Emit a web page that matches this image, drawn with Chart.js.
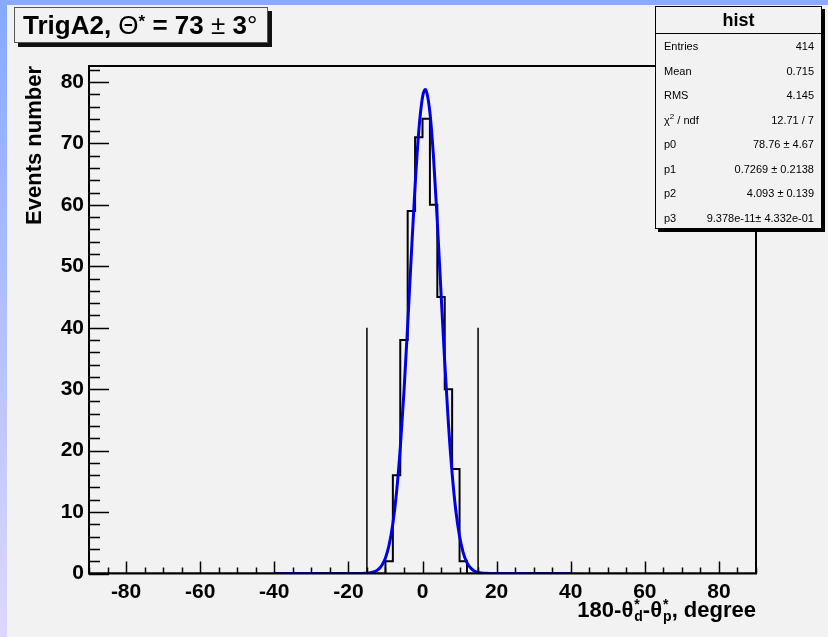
<!DOCTYPE html>
<html>
<head>
<meta charset="utf-8">
<title>TrigA2 hist</title>
<script src="https://cdn.jsdelivr.net/npm/chart.js@4.4.0/dist/chart.umd.min.js"></script>
<style>
    html, body {
        margin: 0;
        padding: 0;
    }
    body {
        width: 828px;
        height: 637px;
        position: relative;
        overflow: hidden;
        background: #f2f2f2;
        font-family: "Liberation Sans", Arial, Helvetica, sans-serif;
    }
    #wrap {
        position: absolute;
        left: 0;
        top: 0;
        width: 828px;
        height: 637px;
    }
    .stripe-left {
        position: absolute;
        left: 0;
        top: 0;
        width: 7px;
        height: 637px;
        background: linear-gradient(to bottom, #86a8ff, #ddd7fb);
    }
    .stripe-top {
        position: absolute;
        left: 0;
        top: 0;
        width: 828px;
        height: 5px;
        background: #88aaff;
    }
    .title-box {
        position: absolute;
        left: 14px;
        top: 7px;
        width: 254px;
        height: 36px;
        box-sizing: border-box;
        border: 1px solid #555;
        background: #f2f2f2;
        box-shadow: 4px 4px 0 #111;
        font-weight: bold;
        font-size: 26px;
        line-height: 34px;
        padding-left: 8px;
        white-space: nowrap;
    }
    .title-box .sym { font-weight: normal; }
    .title-box sup { font-size: 17px; vertical-align: 7px; line-height: 0; }
    .stats {
        position: absolute;
        left: 655px;
        top: 6px;
        width: 167px;
        height: 223px;
        box-sizing: border-box;
        border: 1px solid #000;
        background: #f2f2f2;
        box-shadow: 3px 3px 0 #000;
    }
    .stats .head {
        height: 26px;
        line-height: 26px;
        text-align: center;
        font-weight: bold;
        font-size: 18px;
        border-bottom: 1px solid #000;
    }
    .stats .row {
        height: 24.5px;
        line-height: 24.5px;
        font-size: 11px;
        padding: 0 7px 0 8px;
        display: flex;
        justify-content: space-between;
    }
    .stats sup { font-size: 8px; line-height: 0; }
    .xtitle {
        position: absolute;
        right: 72px;
        top: 597px;
        font-weight: bold;
        font-size: 22px;
        white-space: nowrap;
    }
    .ss {
        display: inline-flex;
        flex-direction: column;
        font-size: 14px;
        line-height: 12px;
        vertical-align: 8px;
        margin-left: 1px;
    }
</style>
</head>
<body>
<div id="wrap"><canvas id="histChart" width="828" height="637"></canvas></div>
<div class="stripe-left"></div>
<div class="stripe-top"></div>
<div class="title-box">TrigA2, <span class="sym">&Theta;</span><sup>*</sup> = 73 <span class="sym">&plusmn;</span> 3<span class="sym">&deg;</span></div>
<div class="stats" id="stats"><div class="head">hist</div></div>
<div class="xtitle">180-&theta;<span class="ss"><span>*</span><span>d</span></span>-&theta;<span class="ss"><span>*</span><span>p</span></span>, degree</div>

<script>
// histogram bins (low edge, width 2 deg) and counts
const binLow = [-10, -8, -6, -4, -2, 0, 2, 4, 6, 8, 10];
const binWidth = 2;
const counts = [2, 16, 38, 59, 71, 74, 60, 45, 30, 17, 2];

// gaussian fit curve
const fitX = [-40, -20, -17, -16, -15, -14, -13, -12, -11, -10, -9, -8, -7, -6, -5, -4, -3, -2, -1, 0, 0.73,
    1, 2, 3, 4, 5, 6, 7, 8, 9, 10, 11, 12, 13, 14, 15, 16, 17, 20, 40];
const fitY = [0, 0, 0.007, 0.019, 0.049, 0.122, 0.284, 0.626, 1.30, 2.54, 4.68, 8.11, 13.26, 20.41, 29.59, 40.43, 52.03, 63.08, 72.05, 77.53, 78.76,
    78.59, 75.04, 67.51, 57.21, 45.67, 34.35, 24.34, 16.24, 10.21, 6.05, 3.37, 1.77, 0.88, 0.41, 0.18, 0.075, 0.03, 0, 0];

// cut lines
const cutX = [-15, 15];
const cutHeight = 40;

// axes
const xRange = [-90, 90];
const yRange = [0, 82.6];
const xTicks = [-80, -60, -40, -20, 0, 20, 40, 60, 80];
const xMinorStep = 5;
const yTicks = [0, 10, 20, 30, 40, 50, 60, 70, 80];
const yMinorStep = 2;

// stat box
const statLabels = ['Entries', 'Mean', 'RMS', 'χ<sup>2</sup> / ndf', 'p0', 'p1', 'p2', 'p3'];
const statValues = ['414', '0.715', '4.145', '12.71 / 7', '78.76 ± 4.67', '0.7269 ± 0.2138', '4.093 ± 0.139', '9.378e-11± 4.332e-01'];

document.addEventListener('DOMContentLoaded', function() {
    fillStats();
    initHistChart();
});

function fillStats() {
    const box = document.getElementById('stats');
    statLabels.forEach((lab, i) => {
        const row = document.createElement('div');
        row.className = 'row';
        row.innerHTML = `<span>${lab}</span><span>${statValues[i]}</span>`;
        box.appendChild(row);
    });
}

function histPoints() {
    const pts = [{ x: xRange[0], y: 0 }];
    binLow.forEach((lo, i) => pts.push({ x: lo, y: counts[i] }));
    const last = binLow[binLow.length - 1] + binWidth;
    pts.push({ x: last, y: 0 });
    pts.push({ x: xRange[1], y: 0 });
    return pts;
}

// ROOT style frame with ticks pointing inwards
const frameTicks = {
    id: 'frameTicks',
    afterDatasetsDraw(chart) {
        const { ctx, chartArea: a, scales } = chart;
        const xs = scales.x, ys = scales.y;
        ctx.save();
        ctx.strokeStyle = '#000';
        ctx.lineWidth = 1.5;
        ctx.beginPath();
        for (let v = xRange[0]; v <= xRange[1]; v += xMinorStep) {
            const px = Math.round(xs.getPixelForValue(v)) + 0.5;
            const len = xTicks.includes(v) ? 12 : 6;
            ctx.moveTo(px, a.bottom);
            ctx.lineTo(px, a.bottom - len);
        }
        for (let v = yRange[0]; v <= yRange[1]; v += yMinorStep) {
            const py = Math.round(ys.getPixelForValue(v)) + 0.5;
            const len = yTicks.includes(v) ? 20 : 11;
            ctx.moveTo(a.left, py);
            ctx.lineTo(a.left + len, py);
        }
        ctx.stroke();
        ctx.lineWidth = 2;
        ctx.strokeRect(a.left, a.top, a.right - a.left, a.bottom - a.top);
        ctx.restore();
    }
};

function initHistChart() {
    const ctx = document.getElementById('histChart').getContext('2d');
    const tickFont = { family: '"Liberation Sans", Arial, sans-serif', size: 21, weight: 'bold' };

    new Chart(ctx, {
        type: 'line',
        data: {
            datasets: [
                {
                    label: 'fit',
                    data: fitX.map((x, i) => ({ x: x, y: fitY[i] })),
                    borderColor: '#0000e8',
                    borderWidth: 3,
                    cubicInterpolationMode: 'monotone',
                    pointRadius: 0,
                    order: 0
                },
                ...cutX.map(c => ({
                    label: 'cut',
                    data: [{ x: c, y: 0 }, { x: c, y: cutHeight }],
                    borderColor: '#000',
                    borderWidth: 1.5,
                    pointRadius: 0,
                    order: 1
                })),
                {
                    label: 'hist',
                    data: histPoints(),
                    borderColor: '#000',
                    borderWidth: 2,
                    stepped: 'before',
                    pointRadius: 0,
                    order: 2
                }
            ]
        },
        options: {
            responsive: false,
            animation: false,
            events: [],
            layout: {
                padding: { left: 0, top: 66, right: 72, bottom: 0 }
            },
            plugins: {
                legend: { display: false },
                tooltip: { enabled: false }
            },
            scales: {
                x: {
                    type: 'linear',
                    min: xRange[0],
                    max: xRange[1],
                    afterBuildTicks: s => { s.ticks = xTicks.map(v => ({ value: v })); },
                    afterFit: s => { s.height = 63.5; },
                    grid: { display: false, drawTicks: false },
                    border: { display: false },
                    ticks: { font: tickFont, color: '#000', padding: 6, maxRotation: 0, autoSkip: false }
                },
                y: {
                    type: 'linear',
                    min: yRange[0],
                    max: yRange[1],
                    afterBuildTicks: s => { s.ticks = yTicks.map(v => ({ value: v })); },
                    afterFit: s => { s.width = 89; },
                    grid: { display: false, drawTicks: false },
                    border: { display: false },
                    ticks: { font: tickFont, color: '#000', padding: 5 },
                    title: {
                        display: true,
                        text: 'Events number',
                        align: 'end',
                        color: '#000',
                        font: { family: '"Liberation Sans", Arial, sans-serif', size: 22, weight: 'bold' },
                        padding: { top: 22, bottom: 0 }
                    }
                }
            }
        },
        plugins: [frameTicks]
    });
}
</script>
</body>
</html>
